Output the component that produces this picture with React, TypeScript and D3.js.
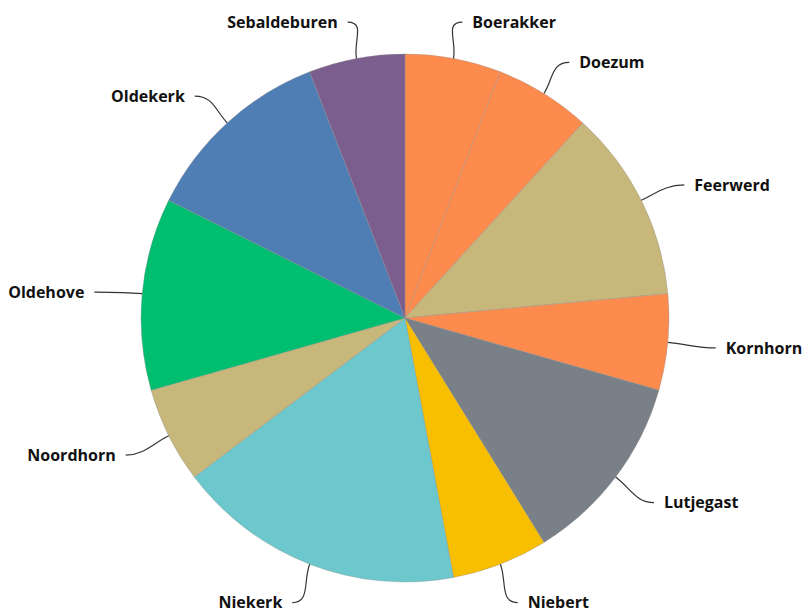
import React from "react";
import * as d3 from "d3";

const categories = ["Boerakker", "Doezum", "Feerwerd", "Kornhorn", "Lutjegast", "Niebert", "Niekerk", "Noordhorn", "Oldehove", "Oldekerk", "Sebaldeburen"];
const values = [1, 1, 2, 1, 2, 1, 3, 1, 2, 2, 1];
const colors = ["#FE8B4E", "#FE8B4E", "#C7B77A", "#FE8B4E", "#798088", "#F8BF00", "#6CC8CC", "#C7B77A", "#00BE6F", "#4F7EB5", "#7B5E8D"];

const W = 804, H = 613;
const cx = 405, cy = 318, R = 264;
const RLX = 312, RLY = 303, LDY = 2;

export default function App() {
  const pie = d3.pie<number>().sort(null).value((d) => d);
  const arcs = pie(values);
  const arcGen = d3.arc<d3.PieArcDatum<number>>().innerRadius(0).outerRadius(R);

  return (
    <svg width={W} height={H} style={{ position: "absolute", left: 0, top: 0, background: "#fff" }}>
      <g transform={`translate(${cx},${cy})`}>
        {arcs.map((a, i) => (
          <path key={i} d={arcGen(a) || ""} fill={colors[i]} stroke="#8a8a8a" strokeOpacity={0.35} strokeWidth={1} />
        ))}
        {arcs.map((a, i) => {
          const mid = (a.startAngle + a.endAngle) / 2;
          const sx = Math.sin(mid), sy = -Math.cos(mid);
          const dir = sx >= 0 ? 1 : -1;
          const p0x = R * sx, p0y = R * sy;
          let ly = LDY + RLY * sy;
          ly = Math.max(19 - cy, Math.min(H - 10 - cy, ly));
          const lx = RLX * sx;
          const p3x = lx, p3y = ly;
          const k = 18;
          const p1x = p0x + sx * k, p1y = p0y + sy * k;
          const p2x = p3x - dir * k, p2y = p3y;
          const path = `M${p0x},${p0y} C${p1x},${p1y} ${p2x},${p2y} ${p3x},${p3y}`;
          return (
            <g key={"l" + i}>
              <path d={path} fill="none" stroke="#333" strokeWidth={1.2} />
              <text
                x={p3x + dir * 10}
                y={p3y}
                dy="0.35em"
                textAnchor={dir > 0 ? "start" : "end"}
                fontFamily="'Open Sans', 'Noto Sans', sans-serif"
                fontWeight={700}
                fontSize={16}
                fill="#111"
              >
                {categories[i]}
              </text>
            </g>
          );
        })}
      </g>
    </svg>
  );
}
